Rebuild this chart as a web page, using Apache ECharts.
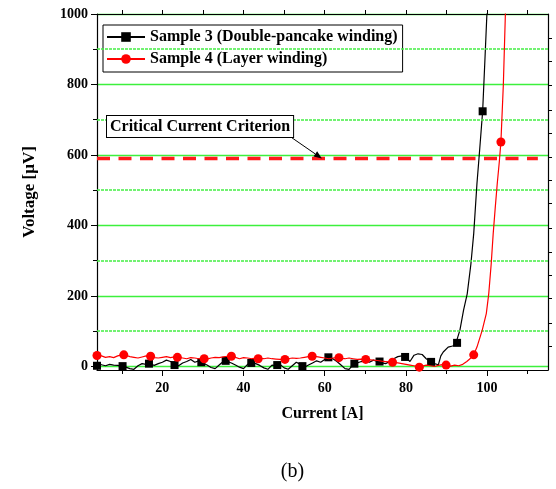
<!DOCTYPE html>
<html><head><meta charset="utf-8">
<script src="https://cdn.jsdelivr.net/npm/echarts@6/dist/echarts.min.js"></script>
<style>html,body{margin:0;padding:0;background:#fff}#c{width:556px;height:489px}</style>
</head><body><div id="c"></div>
<script>
// ---- data ----
const xTickLabels = [20, 40, 60, 80, 100];
const xTicks = [10, 20, 30, 40, 50, 60, 70, 80, 90, 100, 110];
const yTickLabels = [0, 200, 400, 600, 800, 1000];
const yMinorTicks = [100, 300, 500, 700, 900];
const rightTicks = [56, 122, 193, 259, 325, 392, 463, 529, 595, 662, 728, 799, 865, 932];

const s3Name = 'Sample 3 (Double-pancake winding)';
const s3X = [4,5,6,7,8,9,10,11,12,13,14,15,16,17,18,19,20,21,22,23,24,25,26,27,28,29,30,31,32,33,34,35,36,37,38,39,40,41,42,43,44,45,46,47,48,49,50,51,52,53,54,55,56,57,58,59,60,61,62,63,64,65,66,67,68,69,70,71,72,73,74,75,76,77,78,79,80,81,82,83,84,85,86,87,88,88.6,89.2,90.4,91.5,92.2,93.3,94.2,95.1,96,96.7,97.5,98.2,99.5,100.1];
const s3Y = [12,5,2,6,4,3,1,-2,-6,-8,2,8,6,10,3,8,12,18,14,8,2,10,14,20,12,16,8,4,-3,-6,4,14,20,10,4,-2,-6,6,12,8,3,-4,-8,4,2,6,-4,-8,2,12,6,-2,4,10,16,12,20,26,22,14,4,-6,-8,6,10,14,16,12,18,14,10,8,14,22,28,30,24,14,32,36,34,22,14,8,5,30,41,55,58,62,103,160,206,290,377,519,620,880,1040];
const s3MarkX = [3.9,10.2,16.7,23.0,29.6,35.6,41.9,48.3,54.5,60.9,67.3,73.5,79.8,86.2,92.6,98.9];
const s3MarkY = [2,1,8,4,12,16,10,4,1,26,8,14,27,13,67,724];

const s4Name = 'Sample 4 (Layer winding)';
const s4X = [4,5,6,7,8,9,10,11,12,13,14,15,16,17,18,19,20,21,22,23,24,25,26,27,28,29,30,31,32,33,34,35,36,37,38,39,40,41,42,43,44,45,46,47,48,49,50,51,52,53,54,55,56,57,58,59,60,61,62,63,64,65,66,67,68,69,70,71,72,73,74,75,76,77,78,79,80,81,82,83,84,85,86,87,88,89,90,91,92,93,94,95,96,97.5,98.8,99.8,100.4,101,101.5,102,102.5,103,104,104.6];
const s4Y = [36,30,26,28,25,30,33,32,28,26,24,27,30,29,25,24,26,28,25,27,26,24,22,25,24,22,23,21,24,26,25,27,29,29,26,22,25,24,22,23,21,22,24,22,21,20,20,22,24,23,24,26,28,29,28,26,24,22,24,25,23,22,24,22,20,21,20,19,18,17,15,14,13,12,10,8,6,4,2,-1,1,4,2,0,3,5,3,1,4,2,6,14,24,55,103,150,206,290,377,450,519,580,800,1040];
const s4MarkX = [3.9,10.5,17.1,23.7,30.3,37.0,43.6,50.2,56.9,63.5,70.1,76.7,83.3,89.9,96.7,103.4];
const s4MarkY = [31,33,29,26,22,29,22,20,29,25,20,12,-2,4,33,637];

const criterionName = 'Critical Current Criterion';
const criterionValue = 590;
const criterionX = [3.9, 112.5];
const criterionArrowX = 59.3;

// ---- build ----
function merge(xs, ys, mx, my) {
  const pts = [];
  xs.forEach((x, i) => pts.push({ value: [x, ys[i]], symbol: 'none' }));
  mx.forEach((x, i) => pts.push({ value: [x, my[i]] }));
  pts.sort((a, b) => a.value[0] - b.value[0]);
  return pts;
}
const FONT = 'Liberation Serif';
const chart = echarts.init(document.getElementById('c'), null, { renderer: 'canvas' });
const baseX = { type: 'value', min: 3.9, max: 115, gridIndex: 0 };
const baseY = { type: 'value', min: -10, max: 1000, gridIndex: 0 };
const plain = v => String(v);
chart.setOption({
  animation: false,
  backgroundColor: '#fff',
  grid: { left: 97, right: 8, top: 14, bottom: 119, containLabel: false },
  legend: {
    data: [s3Name, s4Name],
    orient: 'vertical',
    left: 103, top: 25,
    padding: [3, 5, 4, 3],
    itemGap: 4,
    itemWidth: 38, itemHeight: 12,
    borderColor: '#000', borderWidth: 1,
    backgroundColor: '#fff',
    textStyle: { fontFamily: FONT, fontWeight: 'bold', fontSize: 16, color: '#000', lineHeight: 18 }
  },
  xAxis: [
    Object.assign({}, baseX, {
      position: 'bottom',
      name: 'Current [A]', nameLocation: 'middle', nameGap: 36,
      nameTextStyle: { fontFamily: FONT, fontWeight: 'bold', fontSize: 16, color: '#000' },
      axisLine: { show: true, onZero: false, lineStyle: { color: '#000', width: 1.2 } },
      axisTick: { show: true, length: 6, customValues: xTickLabels, lineStyle: { color: '#000' } },
      axisLabel: { customValues: xTickLabels, formatter: plain, margin: 11, fontFamily: FONT, fontWeight: 'bold', fontSize: 14, color: '#000' },
      splitLine: { show: false }
    }),
    Object.assign({}, baseX, {
      position: 'bottom',
      axisLine: { show: false, onZero: false },
      axisTick: { show: true, length: 4, customValues: xTicks, lineStyle: { color: '#000' } },
      axisLabel: { show: false },
      splitLine: { show: false }
    }),
    Object.assign({}, baseX, {
      position: 'top',
      axisLine: { show: true, onZero: false, lineStyle: { color: '#000', width: 1.2 } },
      axisTick: { show: true, length: 4, customValues: xTicks, lineStyle: { color: '#000' } },
      axisLabel: { show: false },
      splitLine: { show: false }
    })
  ],
  yAxis: [
    Object.assign({}, baseY, {
      position: 'left',
      name: 'Voltage [\u03bcV]', nameLocation: 'middle', nameGap: 59, nameRotate: 90,
      nameTextStyle: { fontFamily: FONT, fontWeight: 'bold', fontSize: 17, color: '#000' },
      axisLine: { show: true, onZero: false, lineStyle: { color: '#000', width: 1.2 } },
      axisTick: { show: true, length: 6, customValues: yTickLabels, lineStyle: { color: '#000' } },
      axisLabel: { customValues: yTickLabels, formatter: plain, margin: 9, fontFamily: FONT, fontWeight: 'bold', fontSize: 14, color: '#000' },
      splitLine: { show: true, lineStyle: { color: '#3cf03c', width: 1.4, type: 'solid' } }
    }),
    Object.assign({}, baseY, {
      position: 'left',
      axisLine: { show: false, onZero: false },
      axisTick: { show: true, length: 4, customValues: yMinorTicks, lineStyle: { color: '#000' } },
      axisLabel: { show: false },
      splitLine: { show: false }
    }),
    Object.assign({}, baseY, {
      position: 'right',
      axisLine: { show: true, onZero: false, lineStyle: { color: '#000', width: 1.2 } },
      axisTick: { show: true, length: 4, customValues: rightTicks, lineStyle: { color: '#000' } },
      axisLabel: { show: false },
      splitLine: { show: false }
    })
  ],
  series: [
    {
      name: criterionName, type: 'line', xAxisIndex: 0, yAxisIndex: 0,
      data: criterionX.map(x => [x, criterionValue]),
      symbol: 'none', silent: true, z: 3,
      lineStyle: { color: '#ff1a1a', width: 3.5, type: [13, 8.5] },
      markLine: {
        silent: true, symbol: 'none', animation: false,
        label: { show: false },
        emphasis: { disabled: true },
        lineStyle: { color: '#44ee44', width: 1.6, type: [3, 1] },
        data: yMinorTicks.map(v => ({ yAxis: v }))
      }
    },
    {
      name: s3Name, type: 'line', xAxisIndex: 0, yAxisIndex: 0,
      data: merge(s3X, s3Y, s3MarkX, s3MarkY),
      symbol: 'rect', symbolSize: 8, z: 4,
      lineStyle: { color: '#000', width: 1.2 },
      itemStyle: { color: '#000' }
    },
    {
      name: s4Name, type: 'line', xAxisIndex: 0, yAxisIndex: 0,
      data: merge(s4X, s4Y, s4MarkX, s4MarkY),
      symbol: 'circle', symbolSize: 9, z: 5,
      lineStyle: { color: '#ff0000', width: 1.2 },
      itemStyle: { color: '#ff0000' }
    }
  ]
});

// annotation & caption
const tip = chart.convertToPixel({ gridIndex: 0 }, [criterionArrowX, criterionValue]);
const tail = [291.5, 137.5];
const ang = Math.atan2(tip[1] - tail[1], tip[0] - tail[0]);
const L = 8, W = 3.2;
const bx = tip[0] - L * Math.cos(ang), by = tip[1] - L * Math.sin(ang);
chart.setOption({
  graphic: [
    {
      type: 'text', left: 106, top: 115, z: 100,
      style: {
        text: criterionName, fontFamily: FONT, fontWeight: 'bold', fontSize: 16, fill: '#000',
        backgroundColor: '#fff', borderColor: '#000', borderWidth: 1, padding: [3, 3, 2, 3]
      }
    },
    {
      type: 'line', z: 100,
      shape: { x1: tail[0], y1: tail[1], x2: bx, y2: by },
      style: { stroke: '#000', lineWidth: 1 }
    },
    {
      type: 'polygon', z: 100,
      shape: { points: [tip, [bx + W * Math.sin(ang), by - W * Math.cos(ang)], [bx - W * Math.sin(ang), by + W * Math.cos(ang)]] },
      style: { fill: '#000' }
    },
    {
      type: 'text', x: 292.5, y: 472, z: 100,
      style: { text: '(b)', fontFamily: FONT, fontSize: 20, fill: '#000', align: 'center', verticalAlign: 'middle' }
    }
  ]
});
</script>
</body></html>
